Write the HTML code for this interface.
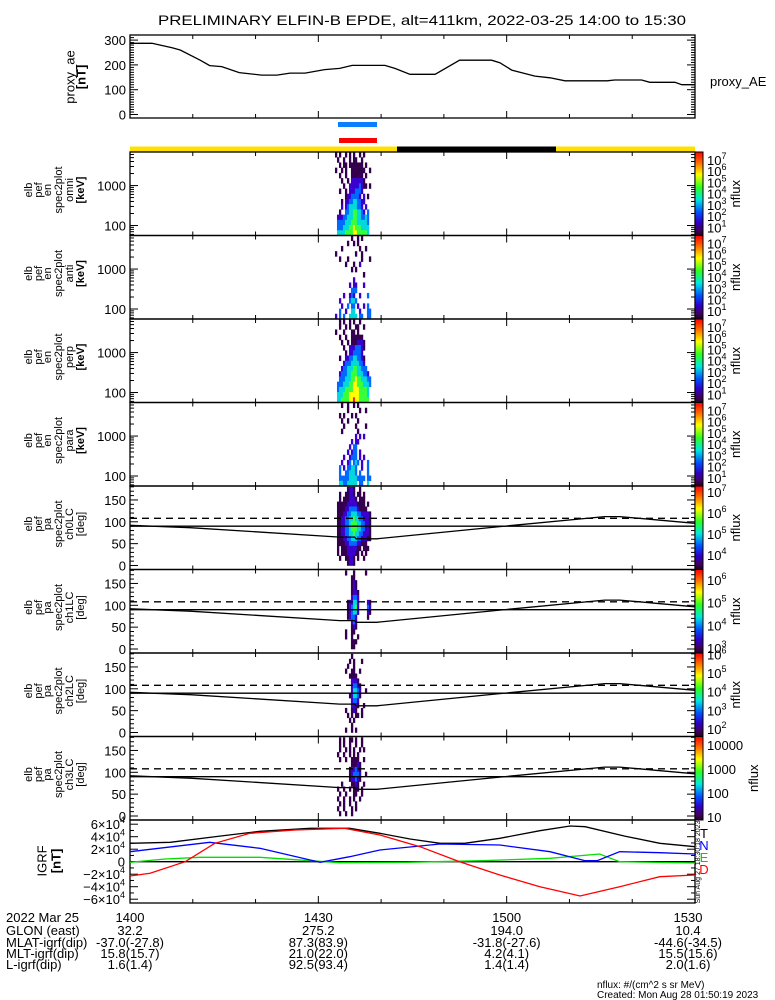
<!DOCTYPE html>
<html><head><meta charset="utf-8"><style>
html,body{margin:0;padding:0;background:#fff;}
svg{display:block;font-family:"Liberation Sans",sans-serif;}
</style></head><body>
<svg id="chart" xmlns="http://www.w3.org/2000/svg" width="775" height="1000" viewBox="0 0 775 1000">
<defs>
<linearGradient id="cbar" x1="0" y1="0" x2="0" y2="1">
<stop offset="0" stop-color="#ff0000"/><stop offset="0.13" stop-color="#ff7000"/><stop offset="0.27" stop-color="#ffff00"/>
<stop offset="0.42" stop-color="#30ff20"/><stop offset="0.57" stop-color="#00e8e0"/><stop offset="0.72" stop-color="#0050ff"/>
<stop offset="0.84" stop-color="#3000c8"/><stop offset="0.94" stop-color="#40005a"/><stop offset="1" stop-color="#200020"/>
</linearGradient>
</defs>
<text x="422" y="25" font-size="14" text-anchor="middle" textLength="528" lengthAdjust="spacingAndGlyphs">PRELIMINARY ELFIN-B EPDE, alt=411km, 2022-03-25 14:00 to 15:30</text>
<g id="layer"></g>
</svg>
<script>
// ---- data ----
const aeTimes=[0,3.5,6.7,8,11.1,12.7,14.6,17.4,21,23.4,25.5,27.9,31,33.4,35.4,40.6,42.2,44.6,48.6,52.5,57.6,58.9,60.8,64.5,66.9,69.3,76,77.2,81.5,82.8,86.8,87.9,90];
const aeValues=[287,287,269,260,220,197,193,169,159,159,167,167,181,186,198,198,186,162,162,219,219,209,179,155,148,136,136,139,139,130,130,120,120];
const aeTicks=[0,100,200,300];
const xTickLabels=["1400","1430","1500","1530"];
const xTickTimes=[0,30,60,90];
const igrfTTimes=[0,6.4,14.3,20.7,28.7,35,39.8,44.6,49.4,53.3,58.9,65.3,70.1,72.5,78.8,84.4,90];
const igrfT=[2.94,3.1,4.1,4.86,5.34,5.34,4.54,3.63,2.94,2.94,3.74,4.96,5.71,5.6,4.1,2.94,2.4];
const igrfDTimes=[0,3.2,8.8,13.5,19.1,26.3,34.2,39.8,46.2,52.5,58.9,65.3,71.7,78,84.4,90];
const igrfD=[-2.29,-1.86,0,2.94,4.54,5.07,5.34,4.27,2.4,0,-2.13,-4.0,-5.49,-4.0,-2.4,-2.13];
const igrfNTimes=[0,12.7,20.7,28.7,30.3,35,39.8,49.4,58.9,66.9,72.5,74.4,78,84.4,90];
const igrfN=[1.6,3.1,2.14,0.27,-0.1,0.8,1.87,2.83,2.67,1.6,0.16,0.16,1.6,1.44,1.23];
const igrfETimes=[0,5.6,11.1,20.7,28.7,33.4,44.1,56,66.9,74.8,78,90];
const igrfE=[-0.1,0.43,0.7,0.7,0.16,-0.16,-0.1,0.16,0.54,1.23,0,-0.2];
const igrfTickVals=[6,4,2,0,-2,-4,-6];
const lcTimes=[0,9.6,33.4,35.8,36,39.3,58.9,75.6,78,90];
const lcPA=[92,86.5,65,65,61,61,89,112,112,96.5];
const fovPA=108;
const eTicks=[100,1000];
const paTicks=[0,50,100,150];
const footerLabels=["2022 Mar 25","GLON (east)","MLAT-igrf(dip)","MLT-igrf(dip)","L-igrf(dip)"];
const footerGLON=["32.2","275.2","194.0","10.4"];
const footerMLAT=["-37.0(-27.8)","87.3(83.9)","-31.8(-27.6)","-44.6(-34.5)"];
const footerMLT=["15.8(15.7)","21.0(22.0)","4.2(4.1)","15.5(15.6)"];
const footerL=["1.6(1.4)","92.5(93.4)","1.4(1.4)","2.0(1.6)"];
// spectrogram columns start time (min after 14:00) and width, values are log10(nflux), '.' = no data; rows listed top (high) to bottom (low)
const specStart=32.65, specStep=0.318;
const specOmni=[
"1.1..1.1.1..1.1....",
".1..1..1.11..1.....",
"..1.11.1111111.1...",
"1..1.1..1111111..1.",
"..1..1..111111.1...",
"...1..1.2222221....",
"....1..222223211.1.",
"..1..1.2223332.....",
".....12233332.2.1..",
"...1.2233443322....",
"...2.234444332.2...",
"..1..3344554432.3..",
".2223344455443343..",
".3333444555444443..",
".3334445565554444..",
".4444555566555554.."];
const specAnti=[
"........1..1.1.....",
"......1..1.1.......",
"...1........1..1...",
"1.........1..1.....",
"..1...1......1...1.",
".....1...1..2......",
"........1.1........",
"..............1....",
".........2.........",
".......2.22...2....",
"........333........",
"....2..232..2...3..",
"..2....3443........",
"...2..3.33.2..2.3..",
"..3..2..44..2...33.",
"2.3.3..4444.33..33."];
const specPerp=[
"..1.1..1.1..1......",
"..1..1.1..11..1....",
"1...1...11.1.......",
"..1..1..111111.....",
"...1..1.1112221....",
"....1..22233321....",
".....1.2233332.....",
"..1..2233443321....",
"....23334444332....",
"...2334445544333...",
"..233344555444332..",
"..3334445565544433.",
".33344455665554443.",
".3444555566655554..",
".4445556666655554..",
".4455556676655555.."];
const specPara=[
"...1..1..1.1.......",
"......1.....1..1...",
"..1.1...1.1........",
"...1..1....1.......",
"....1.....1....1...",
"...1.......1.......",
"..........2.2.2....",
"........2.22.......",
".......2.33........",
"......2.233.2......",
"....2..2333.2.2....",
"...2..23.343.2..3..",
"..3.2.33443..2..3..",
"..3..334443.3...3..",
"..3333344443333.33.",
"..443344444.33..4.."];
const specCh0=[
"......1221..1......",
"..1..11221.11.1....",
"..1.1112221.111....",
".11111222221111.1..",
".111122333321111...",
".11122334443322221.",
".11223344544332221.",
".11223345554433221.",
".11223345554433221.",
".11223344544332221.",
".11122334443322211.",
".111122333322111...",
".1.1112222211.111..",
".1.111222211.1.1...",
"..1..11221.1..1....",
"......1221........."];
const specCh1=[
".....1...1.....1...",
"........11.........",
"........121........",
"........121........",
"........1221.......",
"........2332.......",
"......122442....21.",
"......123452....32.",
"......123442....21.",
"......12332.....1..",
"........232........",
"........121........",
".....1..11.........",
".....1..1..1.......",
"........111........",
"........11........."];
const specCh2=[
"........1..........",
".......1.1...1.....",
"......1..1.........",
".....1..11..1......",
".......1111........",
"........2221.......",
"........23321......",
"........24432..1...",
".......124431......",
"........2332.......",
"........2221..1....",
".....1..121..1.....",
"......1.1.11.1.....",
".......1.1.........",
"........1..........",
".....1..1.1........"];
const specCh3=[
"..1.1..11.1..1.....",
"..1.1..1..1..1.....",
"..1..1.1.1..1.1....",
".1..1..1.1.1.......",
"..1..1..1111..1....",
"........11121......",
".......122321......",
".......123332..1...",
".......122321......",
"...1....1121..1....",
".1..1..1.111.1.....",
"..1..1...11..1.....",
".1..1..1.1..1......",
"..1.1..1..1........",
".1..1...1.1........",
"..1..1..1.........."];
const cbLabels14=[1,2,3,4,5,6,7];
const cbLabels5=[4,5,6,7];
const cbLabels6=[3,4,5,6];
const cbLabels7=[2,3,4,5,6];
const cbLabels8=["10","100","1000","10000"];
// ---- drawing ----
const NS="http://www.w3.org/2000/svg";
const layer=document.getElementById('layer');
const X0=130,X1=695;
function xOf(t){return X0+t*(X1-X0)/90;}
function el(tag,attrs,parent){const e=document.createElementNS(NS,tag);for(const k in attrs)e.setAttribute(k,attrs[k]);(parent||layer).appendChild(e);return e;}
function txt(x,y,s,size,anchor,parent,extra){const e=el('text',Object.assign({x:x,y:y,'font-size':size,'text-anchor':anchor||'start'},extra||{}),parent);e.textContent=s;return e;}
const PH=83.5;
const tops=[152,235.5,319,402.5,486,569.5,653,736.5];
const yAE=v=>114.5-v*0.248;
const LMIN=1.75,LMAX=3.84;
const yE=(top,E)=>top+(LMAX-Math.log10(E))/(LMAX-LMIN)*PH;
const yPA=(top,pa)=>top+79.5-pa*0.437;
const yIG=v=>861.7-v*6.25;
const cmap=['#ffffff','#34004e','#3a00d0','#0068ff','#00d8dc','#38ff38','#ffff00','#ff2000'];

function frame(y0,h,name){
  const r=el('rect',{x:X0,y:y0,width:X1-X0,height:h,fill:'none',stroke:'#000','stroke-width':1.3});
  
  
  for(let t=0;t<=90;t+=10){
    const x=xOf(t),L=(t%30===0)?7:4;
    el('line',{x1:x,y1:y0,x2:x,y2:y0+L,stroke:'#000'});
    el('line',{x1:x,y1:y0+h,x2:x,y2:y0+h-L,stroke:'#000'});
  }
}
function ytick(y,L){
  el('line',{x1:X0,y1:y,x2:X0+L,y2:y,stroke:'#000'});
  el('line',{x1:X1,y1:y,x2:X1-L,y2:y,stroke:'#000'});
}
function rotLabel(lines,xs,yc,sizes,bold){
  lines.forEach((s,i)=>{
    const g=el('text',{x:0,y:0,'font-size':sizes,'text-anchor':'middle',transform:`translate(${xs[i]+sizes*0.35},${yc}) rotate(-90)`,'font-weight':(bold&&i===lines.length-1)?'bold':'normal'});
    g.textContent=s;
    
    
  });
}
function polyline(times,vals,yf,color,name,dash){
  const pts=times.map((t,i)=>xOf(t).toFixed(1)+','+yf(vals[i]).toFixed(1)).join(' ');
  const p=el('polyline',{points:pts,fill:'none',stroke:color,'stroke-width':1.3});
  if(dash)p.setAttribute('stroke-dasharray',dash);
  
  
  return p;
}
// AE panel
frame(35,83,'proxy-ae-panel');
for(let v=0;v<=310;v+=10)ytick(yAE(v),v%100===0?8:4);
aeTicks.forEach(v=>{const t=txt(126,yAE(v)+5,String(v),13,'end');});
polyline(aeTimes,aeValues,yAE,'#000','proxy-ae-line');
rotLabel(['proxy_ae','[nT]'],[70,81],77,13,true);
{const t=txt(710,86,'proxy_AE',13,'start');}
// science zone bars
{let r=el('rect',{x:338,y:122,width:39,height:5,fill:'#0a7fff'});
r=el('rect',{x:339,y:138,width:38,height:5,fill:'#ff0000'});
r=el('rect',{x:130,y:146.5,width:267,height:5,fill:'#ffe000'});
r=el('rect',{x:397,y:146.5,width:159,height:5,fill:'#000'});
r=el('rect',{x:556,y:146.5,width:139,height:5,fill:'#ffe000'});}
// spectrograms
function drawSpec(rows,top,name){
  const n=rows.length,h=PH/n;
  rows.forEach((row,r)=>{
    for(let c=0;c<row.length;c++){
      const ch=row[c];if(ch==='.')continue;
      const v=+ch;
      const xa=xOf(specStart+c*specStep),xb=xOf(specStart+(c+1)*specStep);
      const cell=el('rect',{x:xa.toFixed(2),y:(top+r*h).toFixed(2),width:(xb-xa+0.3).toFixed(2),height:(h+0.3).toFixed(2),fill:cmap[v]});
      
      
    }
  });
}
const eNames=['omni','anti','perp','para'];
const eData=[specOmni,specAnti,specPerp,specPara];
function colorbar(top,lmin,lmax,labels,nx,plain){
  const r=el('rect',{x:695,y:top,width:8,height:PH,fill:'url(#cbar)',stroke:'#000','stroke-width':1});
  
  
  labels.forEach(l=>{
    const d=plain?Math.log10(+l):l;
    const y=top+(lmax-d)/(lmax-lmin)*PH;
    const t=el('text',{x:707,y:y+5,'font-size':13});
    if(plain){t.textContent=l;}else{t.textContent='10';const s=el('tspan',{dy:-6,'font-size':9},t);s.textContent=String(l);}
    
    
  });
  const n=el('text',{x:0,y:0,'font-size':13,'text-anchor':'middle',transform:`translate(${nx+4},${top+PH/2}) rotate(-90)`});
  n.textContent='nflux';
  
  
}
eData.forEach((rows,i)=>{
  const top=tops[i];
  drawSpec(rows,top,'spec-'+eNames[i]);
  frame(top,PH,'energy-panel-'+eNames[i]);
  [60,70,80,90,100,200,300,400,500,600,700,800,900,1000,2000,3000,4000,5000,6000].forEach(E=>ytick(yE(top,E),(E===100||E===1000)?8:4));
  eTicks.forEach(E=>{const t=txt(126,yE(top,E)+5,String(E),13,'end');});
  rotLabel(['elb','pef','en','spec2plot',eNames[i],'[keV]'],[28,38,47,58,69,80],top+38,11,true);
  colorbar(top,0.29,7.7,cbLabels14,736,false);
});
const paNames=['ch0LC','ch1LC','ch2LC','ch3LC'];
const paData=[specCh0,specCh1,specCh2,specCh3];
const cbCfg=[[3.31,7.29,cbLabels5,736,false],[2.78,6.46,cbLabels6,736,false],[1.6,6.07,cbLabels7,736,false],[0.875,4.35,cbLabels8,754,true]];
paData.forEach((rows,i)=>{
  const top=tops[4+i];
  const n=rows.length;
  rows.forEach((row,r)=>{
    const pa1=180-r*180/n,pa0=180-(r+1)*180/n;
    for(let c=0;c<row.length;c++){
      const ch=row[c];if(ch==='.')continue;
      const xa=xOf(specStart+c*specStep),xb=xOf(specStart+(c+1)*specStep);
      const cell=el('rect',{x:xa.toFixed(2),y:yPA(top,pa1).toFixed(2),width:(xb-xa+0.3).toFixed(2),height:(yPA(top,pa0)-yPA(top,pa1)+0.3).toFixed(2),fill:cmap[+ch]});
      
      
    }
  });
  frame(top,PH,'pa-panel-'+paNames[i]);
  for(let p=0;p<=180;p+=10)ytick(yPA(top,p),p%50===0?8:4);
  paTicks.forEach(p=>{const t=txt(126,yPA(top,p)+5,String(p),13,'end');});
  polyline([0,90],[90,90],p=>yPA(top,p),'#000','pa90-line');
  polyline([0,90],[fovPA,fovPA],p=>yPA(top,p),'#000','antiloss-cone-line','7,5');
  polyline(lcTimes,lcPA,p=>yPA(top,p),'#000','loss-cone-line');
  rotLabel(['elb','pef','pa','spec2plot',paNames[i],'[deg]'],[28,38,47,58,69,80],top+38,11,false);
  const c=cbCfg[i];colorbar(top,c[0],c[1],c[2],c[3],c[4]);
});
// IGRF panel
frame(820,83,'igrf-panel');
for(let v=-6;v<=6;v+=1)ytick(yIG(v),v%2===0?8:4);
igrfTickVals.forEach(v=>{
  const t=el('text',{x:125,y:yIG(v)+5,'font-size':13,'text-anchor':'end'});
  if(v===0){t.textContent='0';}else{t.textContent=(v<0?'\u2212':'')+Math.abs(v)+'\u00d710';const s=el('tspan',{dy:-6,'font-size':9},t);s.textContent='4';}
  
  
});
polyline([0,90],[0,0],yIG,'#000','igrf-zero-line');
polyline(igrfETimes,igrfE,yIG,'#00e000','igrf-E-line');
polyline(igrfTTimes,igrfT,yIG,'#000','igrf-T-line');
polyline(igrfNTimes,igrfN,yIG,'#0000ff','igrf-N-line');
polyline(igrfDTimes,igrfD,yIG,'#ff0000','igrf-D-line');
rotLabel(['IGRF','[nT]'],[42,56],861,13,true);
[['T','#000',838],['N','#0000ff',850],['E','#00d000',862],['D','#ff0000',874]].forEach(a=>{const t=txt(704,a[2],a[0],13,'middle',null,{fill:a[1]});});
{const t=el('text',{x:0,y:0,'font-size':7,'text-anchor':'middle',transform:'translate(700,862) rotate(-90)'});t.textContent='Sun Aug 27 18:30:18 2023';}
// footer
const fy=[922,935,947,958,969];
footerLabels.forEach((s,i)=>{const t=txt(6,fy[i],s,13,'start');});
const fcols=[xTickLabels,footerGLON,footerMLAT,footerMLT,footerL];
fcols.forEach((arr,r)=>arr.forEach((s,i)=>{
  const x=Math.min(xOf(xTickTimes[i]),688);
  const t=txt(x,fy[r],s,13,'middle');
  
  
}));
{let t=txt(597,988,'nflux: #/(cm^2 s sr MeV)',10,'start');
t=txt(597,998,'Created: Mon Aug 28 01:50:19 2023',10,'start');}
</script>
</body></html>
